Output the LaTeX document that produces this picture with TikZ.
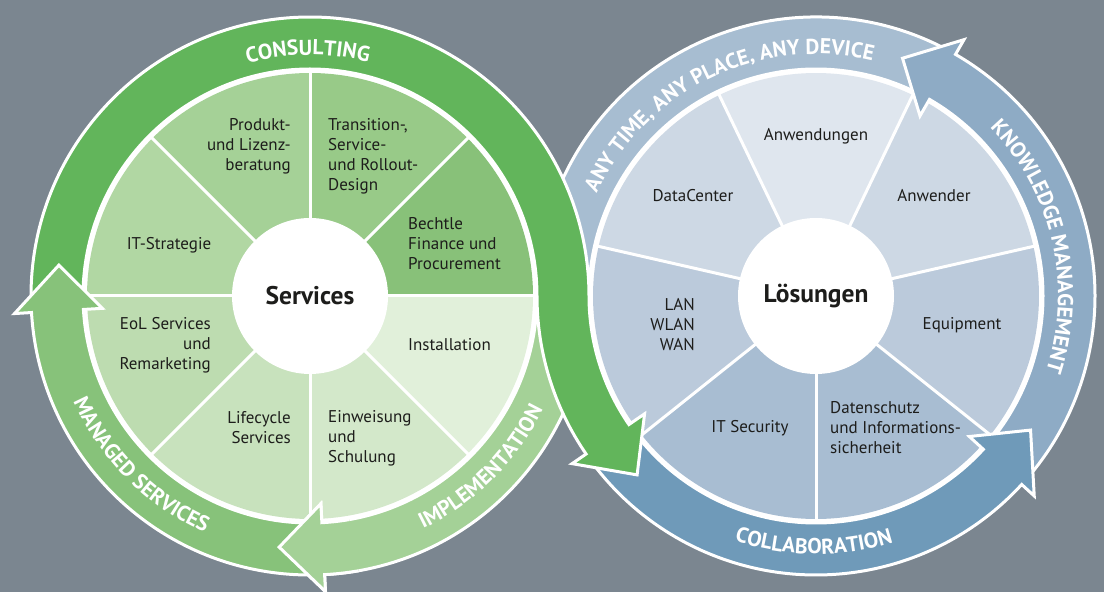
\documentclass[tikz,border=0pt]{standalone}
\usepackage{fontspec}
\setmainfont{PT Sans}
\usepackage{tikz}
\usetikzlibrary{decorations.text}

\definecolor{bggrey}{HTML}{7B8690}
\definecolor{ink}{HTML}{1D1D1B}
\definecolor{consult}{HTML}{62B55B}
\definecolor{managed}{HTML}{87C27A}
\definecolor{implement}{HTML}{A4D197}
\definecolor{anyband}{HTML}{A7BDD1}
\definecolor{knowledge}{HTML}{8EABC5}
\definecolor{collab}{HTML}{6F9AB9}
% Services sectors, darkest to lightest
\definecolor{gA}{HTML}{88C179}
\definecolor{gB}{HTML}{98CA88}
\definecolor{gC}{HTML}{A5D197}
\definecolor{gD}{HTML}{B1D7A3}
\definecolor{gE}{HTML}{BDDCB0}
\definecolor{gF}{HTML}{C8E2BD}
\definecolor{gG}{HTML}{D3E8CA}
\definecolor{gH}{HTML}{E1F0DA}
% Loesungen sectors
\definecolor{bA}{HTML}{DFE6EE}
\definecolor{bB}{HTML}{CDD8E4}
\definecolor{bC}{HTML}{BBCADB}
\definecolor{bD}{HTML}{A8BDD2}

\newcommand\sectorfont{\fontsize{17}{20}\selectfont}
\newcommand\hubfont{\bfseries\fontsize{25.5}{28}\selectfont}
\newcommand\bandfont{\bfseries\fontsize{21.5}{24}\selectfont}

\def\rin{227}\def\rout{279}\def\rmid{253}\def\rbin{208}\def\rbout{296}

% ring arrow: centre, tail angle, head base angle, tip angle, colour
\newcommand\ringarrow[5]{%
  \filldraw[band, fill=#5] ([shift={(#1)}]#2:\rout) arc[start angle=#2, end angle=#3, radius=\rout]
    -- ([shift={(#1)}]#3:\rbout) -- ([shift={(#1)}]#4:\rmid) -- ([shift={(#1)}]#3:\rbin)
    -- ([shift={(#1)}]#3:\rin) arc[start angle=#3, end angle=#2, radius=\rin] -- cycle;}

% text on a ring: centre, radius, start angle, end angle, text
\newcommand\ringtext[5]{%
  \path[decorate, decoration={text along path, text align=center, text color=white,
      text={|\bandfont|#5}}]
    ([shift={(#1)}]#3:#2) arc[start angle=#3, end angle=#4, radius=#2];}

\begin{document}
\begin{tikzpicture}[x=1pt, y=1pt,
  band/.style={draw=white, line width=3pt},
  divider/.style={draw=white, line width=3pt},
  sector/.style={font=\sectorfont, text=ink, inner sep=0pt},
  hub/.style={circle, fill=white, minimum size=156pt, inner sep=0pt, font=\hubfont, text=ink}]
\useasboundingbox (0,0) rectangle (1104,592);
\fill[bggrey] (0,0) rectangle (1104,592);
\coordinate (L) at (310,296);
\coordinate (R) at (816,296);

\fill[white] (L) circle[radius=229];
\fill[white] (R) circle[radius=229];

% Services
\foreach \a/\c in {0/gA,45/gB,90/gC,135/gD,180/gE,225/gF,270/gG,315/gH}
  \fill[\c] (L) -- ++(\a:223) arc[start angle=\a, end angle=\a+45, radius=223] -- cycle;
\foreach \a in {0,45,...,315}
  \draw[divider] (L) -- ++(\a:224);

% Loesungen
\foreach \k/\c [evaluate=\k as \a using 270+\k*360/7] in {0/bD,1/bC,2/bB,3/bA,4/bB,5/bC,6/bD}
  \fill[\c] (R) -- ++(\a:223) arc[start angle=\a, end angle=\a+360/7, radius=223] -- cycle;
\foreach \k [evaluate=\k as \a using 270+\k*360/7] in {0,...,6}
  \draw[divider] (R) -- ++(\a:224);

\node[hub] (services) at (L) {Services};
\node[hub] (loesungen) at (R) {Lösungen};

% right loop
\filldraw[band, fill=anyband] ([shift={(R)}]62:\rout) arc[start angle=62, end angle=190, radius=\rout]
  -- ([shift={(R)}]190:\rin) arc[start angle=190, end angle=62, radius=\rin] -- cycle;
\ringarrow{R}{-41}{60}{70}{knowledge}
\ringarrow{R}{216.5}{317.5}{328}{collab}

% left loop
\ringarrow{L}{0}{-87}{-97}{implement}
\filldraw[band, fill=consult] ([shift={(L)}]181.5:\rout) arc[start angle=181.5, end angle=0, radius=\rout]
  arc[start angle=180, end angle=214.5, radius=\rin]
  -- ([shift={(R)}]214.5:\rbin) -- ([shift={(R)}]225:\rmid) -- ([shift={(R)}]214.5:\rbout)
  -- ([shift={(R)}]214.5:\rout) arc[start angle=214.5, end angle=180, radius=\rout]
  arc[start angle=0, end angle=181.5, radius=\rin] -- cycle;
\ringarrow{L}{271}{183.4}{173}{managed}
\begin{scope}
  \clip (L) -- ([shift={(L)}]-110:320) arc[start angle=-110, end angle=-80, radius=320] -- cycle;
  \ringarrow{L}{0}{-87}{-97}{implement}
\end{scope}

\ringtext{L}{241}{150}{31}{CONSULTING}
\ringtext{L}{259}{255}{375}{IMPLEMENTATION}
\ringtext{L}{259}{165}{285}{MANAGED SERVICES}
\ringtext{R}{242}{185}{46.4}{ANY TIME, ANY PLACE, ANY DEVICE}
\ringtext{R}{242}{83}{-57}{KNOWLEDGE MANAGEMENT}
\ringtext{R}{258}{210}{329}{COLLABORATION}

% Services labels
\node[sector, anchor=east, align=right] (produkt) at (291,446) {Produkt-\\und Lizenz-\\beratung};
\node[sector, anchor=west, align=left] (transition) at (328,436) {Transition-,\\Service-\\und Rollout-\\Design};
\node[sector, anchor=west, align=left] (finance) at (408,348) {Bechtle\\Finance und\\Procurement};
\node[sector] (strategie) at (169,347) {IT-Strategie};
\node[sector, anchor=east, align=right] (eol) at (211,247) {EoL Services\\und\\Remarketing};
\node[sector, anchor=west] (installation) at (408,247) {Installation};
\node[sector, anchor=east, align=right] (lifecycle) at (291,164) {Lifecycle\\Services};
\node[sector, anchor=west, align=left] (einweisung) at (328,154) {Einweisung\\und\\Schulung};

% Loesungen labels
\node[sector] (anwendungen) at (816,456) {Anwendungen};
\node[sector] (datacenter) at (693,396) {DataCenter};
\node[sector] (anwender) at (934,396) {Anwender};
\node[sector, anchor=east, align=right] (lan) at (695,267) {LAN\\WLAN\\WAN};
\node[sector] (equipment) at (962,267) {Equipment};
\node[sector] (security) at (750,164) {IT Security};
\node[sector, anchor=west, align=left] (datenschutz) at (830,164) {Datenschutz\\und Informations-\\sicherheit};
\end{tikzpicture}
\end{document}
